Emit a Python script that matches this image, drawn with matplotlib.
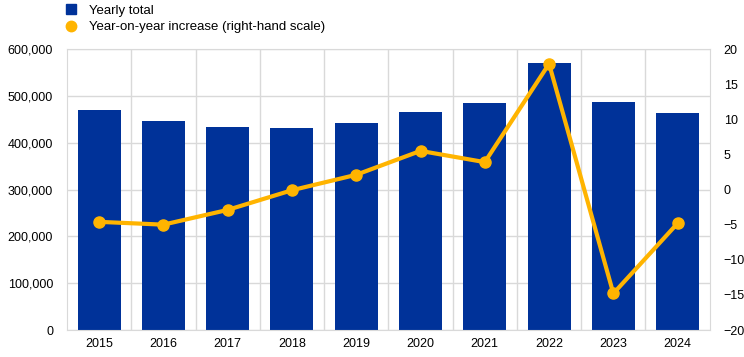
import matplotlib.pyplot as plt
from matplotlib.lines import Line2D
from matplotlib.ticker import FuncFormatter
import numpy as np

plt.rcParams['font.family'] = ['Liberation Sans', 'DejaVu Sans']
plt.rcParams['font.size'] = 9

# data
years = ['2015', '2016', '2017', '2018', '2019', '2020', '2021', '2022', '2023', '2024']
yearly_total = [469700, 446300, 433400, 431300, 442000, 465500, 484700, 570100, 486800, 463300]
yoy_increase = [-4.6, -5.0, -2.9, -0.1, 2.1, 5.5, 3.9, 17.9, -14.8, -4.8]

blue = '#003299'
yellow = '#FFB400'
grid_col = '#d9d9d9'

fig = plt.figure(figsize=(7.44, 3.57), dpi=100)
ax = fig.add_axes([0.090, 0.0756, 0.864, 0.787])
x = np.arange(len(years))

ax.bar(x, yearly_total, width=0.67, color=blue, zorder=2)
ax.set_xlim(-0.5, len(years) - 0.5)
ax.set_ylim(0, 600000)
ax.set_yticks(range(0, 600001, 100000))
ax.yaxis.set_major_formatter(FuncFormatter(lambda v, p: f'{int(v):,}'))
ax.set_xticks(x)
ax.set_xticklabels(years)
ax.set_xticks(x[:-1] + 0.5, minor=True)
ax.grid(axis='y', color=grid_col, linewidth=1, zorder=0)
ax.grid(axis='x', which='minor', color=grid_col, linewidth=1, zorder=0)
ax.tick_params(which='both', length=0)
ax.tick_params(axis='y', pad=10)
ax.tick_params(axis='x', pad=6)
for s in ax.spines.values():
    s.set_color(grid_col)

ax2 = ax.twinx()
ax2.plot(x, yoy_increase, color=yellow, linewidth=3, marker='o', markersize=8, zorder=3)
ax2.set_ylim(-20, 20)
ax2.set_yticks(range(-20, 21, 5))
ax2.tick_params(length=0, pad=10)
for s in ax2.spines.values():
    s.set_visible(False)

handles = [
    Line2D([], [], linestyle='none', marker='s', markersize=7, color=blue),
    Line2D([], [], linestyle='none', marker='o', markersize=7.5, color=yellow),
]
fig.legend(handles, ['Yearly total', 'Year-on-year increase (right-hand scale)'],
           loc='upper left', bbox_to_anchor=(0.07, 1.02), frameon=False,
           handletextpad=0.9, labelspacing=0.3, handlelength=1.0, fontsize=9.5)

fig.savefig('out.png', dpi=100)
